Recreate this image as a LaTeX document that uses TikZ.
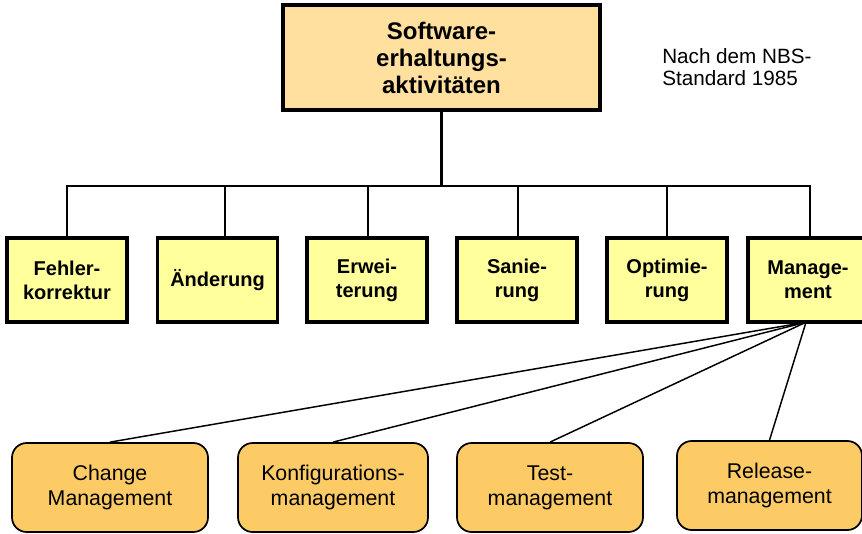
\documentclass[tikz,border=0pt]{standalone}
\usepackage{fontspec}
\setmainfont{Liberation Sans}
\definecolor{topfill}{HTML}{FFE09E}
\definecolor{actfill}{HTML}{FFFF9C}
\definecolor{mgmtfill}{HTML}{FCCB66}
\begin{document}
\begin{tikzpicture}[x=0.75pt,y=-0.75pt,
  rootbox/.style={draw=black,line width=3pt,fill=topfill,minimum width=317*0.75pt,
    minimum height=105*0.75pt,inner sep=0pt,align=center,
    font=\fontsize{18}{20.25}\selectfont\bfseries},
  actbox/.style={draw=black,line width=2.3pt,fill=actfill,minimum width=120*0.75pt,
    minimum height=84*0.75pt,inner sep=0pt,align=center,
    font=\fontsize{15}{18}\selectfont\bfseries},
  subbox/.style={draw=black,line width=1.3pt,fill=mgmtfill,rounded corners=11pt,
    minimum height=89*0.75pt,inner sep=0pt,align=center,
    font=\fontsize{16}{18.75}\selectfont},
  trunk/.style={line width=1.9pt},
  branch/.style={line width=1.1pt},
  note/.style={inner sep=0pt,align=left,font=\fontsize{15.5}{16.5}\selectfont}]
\useasboundingbox (0,0) rectangle (862,534);
\begin{scope}
\clip (0,0) rectangle (862,534);

% root
\node[rootbox] (root) at (441.5,57.5) {Software-\\erhaltungs-\\aktivitäten};
\node[note,anchor=north west] (nbs) at (662,48) {Nach dem NBS-\\Standard 1985};

% activities
\node[actbox] (fehler) at (67,280) {Fehler-\\korrektur};
\node[actbox] (aend) at (217.5,280) {Änderung};
\node[actbox] (erw) at (367,280) {Erwei-\\terung};
\node[actbox] (san) at (517,280) {Sanie-\\rung};
\node[actbox] (opt) at (667,280) {Optimie-\\rung};
\node[actbox] (mgmt) at (808,280) {Manage-\\ment};

% management subareas
\node[subbox,minimum width=196*0.75pt] (chg) at (110,487.5) {Change\\Management};
\node[subbox,minimum width=190*0.75pt] (konf) at (333,487.5) {Konfigurations-\\management};
\node[subbox,minimum width=186*0.75pt] (test) at (550,487.5) {Test-\\management};
\node[subbox,minimum width=185*0.75pt] (rel) at (769.5,485.5) {Release-\\management};

% tree connectors
\coordinate (bus) at (441.5,186);
\draw[trunk] (root.south) -- (bus);
\draw[branch] ([yshift=-1pt]fehler.north) |- (bus) -| ([xshift=1.5pt,yshift=-1pt]mgmt.north);
\draw[branch] ([xshift=5.6pt,yshift=-1pt]aend.north) -- ([xshift=5.6pt]aend.north |- bus);
\draw[branch] ([xshift=0.75pt,yshift=-1pt]erw.north) -- ([xshift=0.75pt]erw.north |- bus);
\draw[branch] ([xshift=0.75pt,yshift=-1pt]san.north) -- ([xshift=0.75pt]san.north |- bus);
\draw[branch] ([yshift=-1pt]opt.north) -- (opt.north |- bus);

% fan from management
\coordinate (foot) at ([xshift=-1.5pt,yshift=1pt]mgmt.south);
\draw[branch] (foot) -- (chg.north);
\draw[branch] (foot) -- (konf.north);
\draw[branch] (foot) -- (test.north);
\draw[branch] (foot) -- (rel.north);
\end{scope}
\end{tikzpicture}
\end{document}
